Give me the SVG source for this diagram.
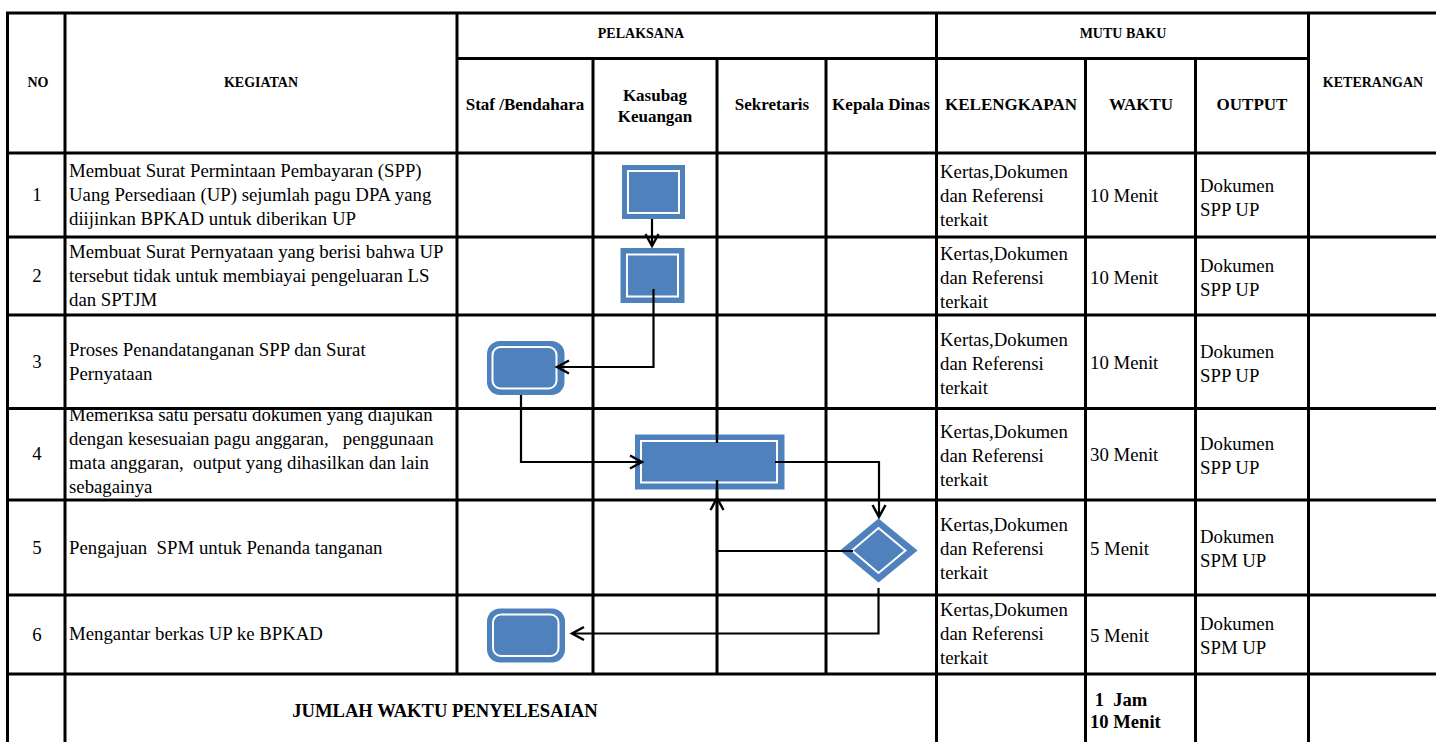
<svg xmlns="http://www.w3.org/2000/svg" width="1436" height="742" viewBox="0 0 1436 742">
<style>
.g{stroke:#000;stroke-width:3;fill:none}
text{font-family:'Liberation Serif','Times New Roman',serif;font-size:18.8px;fill:#000}
.h{font-weight:bold;font-size:14px}
.hs{font-weight:bold;font-size:17px}
.hb{font-weight:bold;font-size:18.6px}
.m{text-anchor:middle}
.c{stroke:#000;stroke-width:2.2;fill:none;marker-end:url(#arr)}
.o{fill:#4F81BD}
.i{fill:#4F81BD;stroke:#fff;stroke-width:2}
</style>
<defs>
<marker id="arr" markerUnits="userSpaceOnUse" markerWidth="18" markerHeight="18" viewBox="-15 -9 18 18" refX="0" refY="0" orient="auto">
<path d="M-12,-6.5 L0,0 L-12,6.5" fill="none" stroke="#000" stroke-width="2.4"/>
</marker>
</defs>
<rect width="1436" height="742" fill="#fff"/>
<g id="grid" class="g">
<path d="M6,13 H1436 M457,58.5 H1308 M6,153 H1436 M6,237 H1436 M6,315 H1436 M6,408.5 H1436 M6,500 H1436 M6,595 H1436 M6,674 H1436"/>
<path d="M7.5,13 V742 M65,13 V742 M457,13 V674 M593,58.5 V674 M717,58.5 V674 M826,58.5 V674 M936.5,13 V742 M1085.5,58.5 V742 M1195.5,58.5 V742 M1308.5,13 V742"/>
</g>
<g id="header">
<text class="h m" x="38" y="87">NO</text>
<text class="h m" x="261" y="87">KEGIATAN</text>
<text class="h m" x="641" y="38">PELAKSANA</text>
<text class="h m" x="1123" y="38">MUTU BAKU</text>
<text class="h m" x="1373" y="87">KETERANGAN</text>
<text class="hs m" x="525" y="110">Staf /Bendahara</text>
<text class="hs m" x="655" y="101">Kasubag</text>
<text class="hs m" x="655" y="122">Keuangan</text>
<text class="hs m" x="772" y="110">Sekretaris</text>
<text class="hs m" x="881" y="110">Kepala Dinas</text>
<text class="hs m" x="1011" y="110">KELENGKAPAN</text>
<text class="hs m" x="1141" y="110">WAKTU</text>
<text class="hs m" x="1252" y="110">OUTPUT</text>
</g>
<g id="col-no">
<text class="m" x="37" y="201">1</text>
<text class="m" x="37" y="282">2</text>
<text class="m" x="37" y="368">3</text>
<text class="m" x="37" y="460">4</text>
<text class="m" x="37" y="554">5</text>
<text class="m" x="37" y="641">6</text>
</g>
<g id="col-kegiatan">
<text x="69" y="177">Membuat Surat Permintaan Pembayaran (SPP)</text>
<text x="69" y="201">Uang Persediaan (UP) sejumlah pagu DPA yang</text>
<text x="69" y="225">diijinkan BPKAD untuk diberikan UP</text>
<text x="69" y="258">Membuat Surat Pernyataan yang berisi bahwa UP</text>
<text x="69" y="282">tersebut tidak untuk membiayai pengeluaran LS</text>
<text x="69" y="306">dan SPTJM</text>
<text x="69" y="356">Proses Penandatanganan SPP dan Surat</text>
<text x="69" y="380">Pernyataan</text>
<text x="69" y="421">Memeriksa satu persatu dokumen yang diajukan</text>
<text x="69" y="445">dengan kesesuaian pagu anggaran,&#160;&#160; penggunaan</text>
<text x="69" y="469">mata anggaran,&#160; output yang dihasilkan dan lain</text>
<text x="69" y="493">sebagainya</text>
<text x="69" y="554">Pengajuan&#160; SPM untuk Penanda tanganan</text>
<text x="69" y="640">Mengantar berkas UP ke BPKAD</text>
</g>
<g id="col-kelengkapan">
<text x="940" y="178">Kertas,Dokumen</text><text x="940" y="202">dan Referensi</text><text x="940" y="226">terkait</text>
<text x="940" y="260">Kertas,Dokumen</text><text x="940" y="284">dan Referensi</text><text x="940" y="308">terkait</text>
<text x="940" y="346">Kertas,Dokumen</text><text x="940" y="370">dan Referensi</text><text x="940" y="394">terkait</text>
<text x="940" y="438">Kertas,Dokumen</text><text x="940" y="462">dan Referensi</text><text x="940" y="486">terkait</text>
<text x="940" y="531">Kertas,Dokumen</text><text x="940" y="555">dan Referensi</text><text x="940" y="579">terkait</text>
<text x="940" y="616">Kertas,Dokumen</text><text x="940" y="640">dan Referensi</text><text x="940" y="664">terkait</text>
</g>
<g id="col-waktu">
<text x="1090" y="202">10 Menit</text>
<text x="1090" y="284">10 Menit</text>
<text x="1090" y="369">10 Menit</text>
<text x="1090" y="461">30 Menit</text>
<text x="1090" y="555">5 Menit</text>
<text x="1090" y="642">5 Menit</text>
</g>
<g id="col-output">
<text x="1200" y="192">Dokumen</text><text x="1200" y="216">SPP UP</text>
<text x="1200" y="272">Dokumen</text><text x="1200" y="296">SPP UP</text>
<text x="1200" y="358">Dokumen</text><text x="1200" y="382">SPP UP</text>
<text x="1200" y="450">Dokumen</text><text x="1200" y="474">SPP UP</text>
<text x="1200" y="543">Dokumen</text><text x="1200" y="567">SPM UP</text>
<text x="1200" y="630">Dokumen</text><text x="1200" y="654">SPM UP</text>
</g>
<g id="total">
<text class="hb m" x="445" y="717">JUMLAH WAKTU PENYELESAIAN</text>
<text class="hb" x="1090" y="706">&#160;1&#160; Jam</text>
<text class="hb" x="1090" y="728">10 Menit</text>
</g>
<g id="node1"><rect class="o" x="622" y="165" width="63" height="54"/><rect class="i" x="628" y="171" width="51" height="42"/></g>
<g id="node2"><rect class="o" x="620.5" y="248" width="64" height="55"/><rect class="i" x="627" y="254.5" width="51" height="42"/></g>
<g id="node3"><rect class="o" x="487" y="341" width="77.5" height="54" rx="13"/><rect class="i" x="492.5" y="347" width="64" height="41.5" rx="8"/></g>
<g id="node4"><rect class="o" x="635" y="434.5" width="149.5" height="55"/><rect class="i" x="641" y="441" width="136" height="41.5"/><path d="M717,434.5 V443 M717,480 V489.5" stroke="#000" stroke-width="2.5"/></g>
<g id="node5"><polygon class="o" points="878.5,518.5 917.5,550.5 878.5,582.5 840,550.5"/><polygon class="i" points="878.5,528 905.5,550.5 878.5,573 852,550.5"/></g>
<g id="node6"><rect class="o" x="487" y="608.5" width="78" height="54" rx="13"/><rect class="i" x="493" y="614.5" width="65.5" height="41.5" rx="8"/></g>
<g id="connectors">
<path class="c" d="M652,219 V246"/>
<path class="c" d="M653.5,289 V367 H557"/>
<path class="c" d="M521,395 V462 H642"/>
<path class="c" d="M775,462 H879 V517"/>
<path class="c" d="M853,551 H717 V498"/>
<path class="c" d="M878.5,588 V633.5 H572"/>
</g>
</svg>
